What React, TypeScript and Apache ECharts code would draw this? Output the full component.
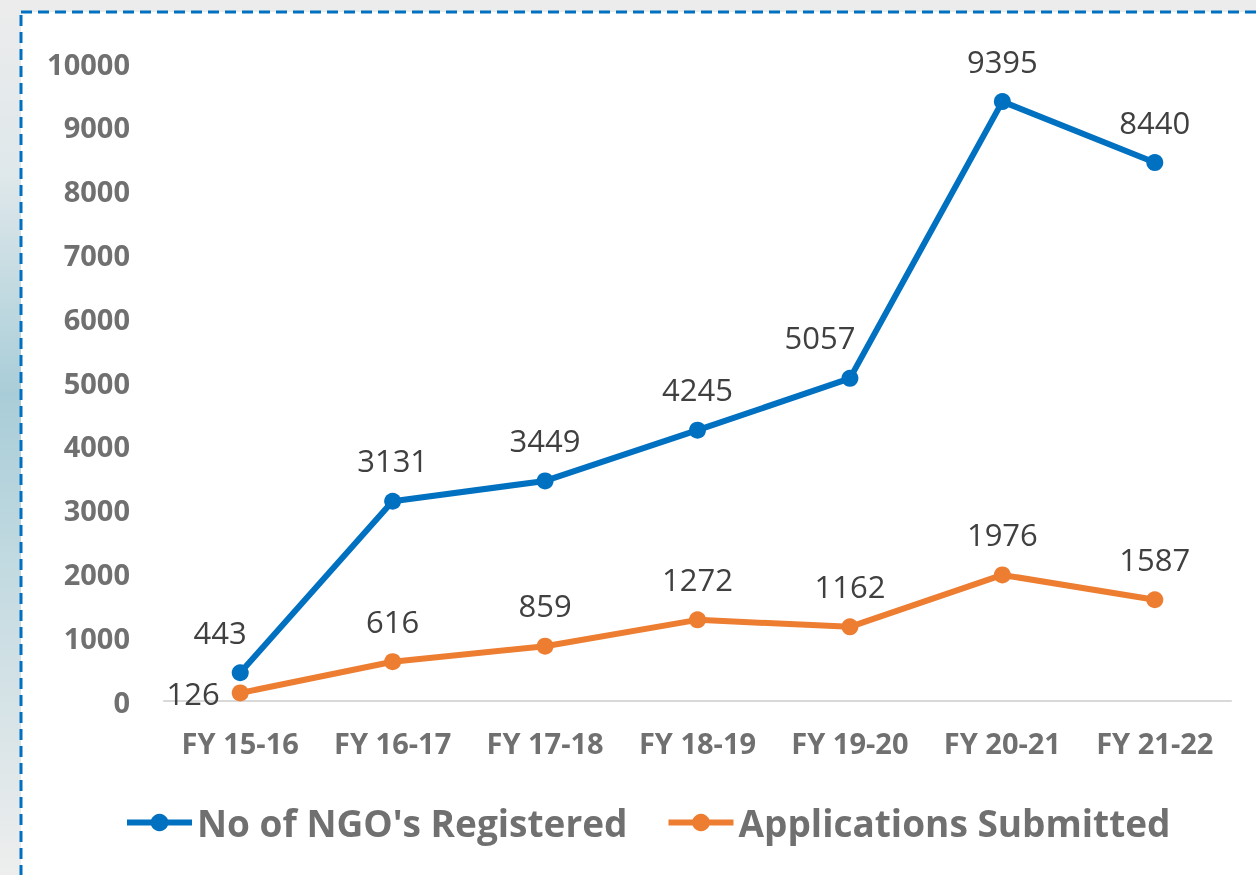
import React, { useEffect, useRef } from "react";
import * as echarts from "echarts";

const categories = ["FY 15-16", "FY 16-17", "FY 17-18", "FY 18-19", "FY 19-20", "FY 20-21", "FY 21-22"];
const ngoRegistered = [443, 3131, 3449, 4245, 5057, 9395, 8440];
const applicationsSubmitted = [126, 616, 859, 1272, 1162, 1976, 1587];
const seriesNames = ["No of NGO's Registered", "Applications Submitted"];

export default function App() {
  const ref = useRef<HTMLDivElement>(null);
  useEffect(() => {
    if (!ref.current) return;
    const chart = echarts.init(ref.current, null, { renderer: "svg" });
    const font = "'Open Sans', sans-serif";
    chart.setOption({
      animation: false,
      backgroundColor: "transparent",
      graphic: [
        {
          type: "rect",
          z: -10,
          shape: { x: 0, y: 0, width: 1256, height: 875 },
          style: {
            fill: new echarts.graphic.LinearGradient(0, 0, 0, 1, [
              { offset: 0, color: "#ececec" },
              { offset: 0.2, color: "#dfe8eb" },
              { offset: 0.45, color: "#a9cdd8" },
              { offset: 0.7, color: "#c9dde3" },
              { offset: 1, color: "#eeeeee" },
            ]),
          },
        },
        {
          type: "rect",
          z: -9,
          shape: { x: 21, y: 12, width: 1300, height: 900 },
          style: {
            fill: "#ffffff",
            stroke: "#0070C0",
            lineWidth: 3,
            lineDash: [11, 6],
          },
        },
      ],
      grid: { left: 164, right: 25, top: 63, bottom: 174 },
      legend: {
        bottom: 29,
        left: 119,
        itemWidth: 65,
        itemHeight: 22,
        itemGap: 38,
        lineStyle: { width: 6 },
        textStyle: { fontFamily: font, fontWeight: "bold", fontSize: 37, color: "#707070" },
        data: seriesNames,
      },
      xAxis: {
        type: "category",
        data: categories,
        boundaryGap: true,
        axisLine: { lineStyle: { color: "#d9d9d9", width: 2 } },
        axisTick: { show: false },
        axisLabel: {
          interval: 0,
          fontFamily: font,
          fontWeight: "bold",
          fontSize: 29,
          color: "#707070",
          margin: 27,
        },
      },
      yAxis: {
        type: "value",
        min: 0,
        max: 10000,
        interval: 1000,
        axisLine: { show: false },
        axisTick: { show: false },
        splitLine: { show: false },
        axisLabel: {
          fontFamily: font,
          fontWeight: "bold",
          fontSize: 29,
          color: "#707070",
          margin: 34,
          formatter: (v: number) => String(v),
        },
      },
      series: [
        {
          name: seriesNames[0],
          type: "line",
          data: ngoRegistered.map((v, i) =>
            i === 0
              ? { value: v, label: { offset: [-20, 0] } }
              : i === 4
              ? { value: v, label: { offset: [-30, 0] } }
              : v
          ),
          symbol: "circle",
          symbolSize: 17,
          lineStyle: { width: 6, color: "#0070C0" },
          itemStyle: { color: "#0070C0" },
          label: {
            show: true,
            position: "top",
            distance: 17,
            fontFamily: font,
            fontSize: 31,
            color: "#404040",
          },
        },
        {
          name: seriesNames[1],
          type: "line",
          data: applicationsSubmitted.map((v, i) =>
            i === 0 ? { value: v, label: { position: "left", distance: 12 } } : v
          ),
          symbol: "circle",
          symbolSize: 17,
          lineStyle: { width: 6, color: "#ED7D31" },
          itemStyle: { color: "#ED7D31" },
          label: {
            show: true,
            position: "top",
            distance: 17,
            fontFamily: font,
            fontSize: 31,
            color: "#404040",
          },
        },
      ],
    });
    return () => chart.dispose();
  }, []);
  return (
    <div
      ref={ref}
      style={{ position: "fixed", left: 0, top: 0, width: 1256, height: 875 }}
    />
  );
}
